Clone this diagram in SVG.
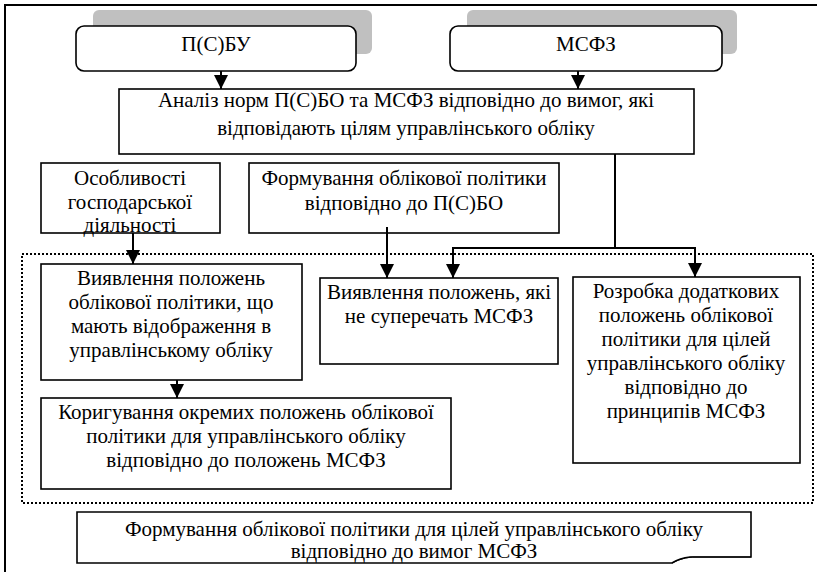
<svg xmlns="http://www.w3.org/2000/svg" width="817" height="572" viewBox="0 0 817 572">
<defs>
<marker id="ah" markerUnits="userSpaceOnUse" markerWidth="14" markerHeight="14" viewBox="0 0 14 14" refX="14" refY="7" orient="auto-start-reverse">
<path d="M0,0 L14,7 L0,14 Z" fill="#000"/>
</marker>
</defs>
<rect x="0" y="0" width="817" height="572" fill="#fff"/>
<path d="M5,600 V5 H840" fill="none" stroke="#000" stroke-width="2"/>
<rect x="22" y="254" width="791" height="249" fill="none" stroke="#000" stroke-width="2" stroke-dasharray="2,2"/>
<g fill="#c0c0c0" stroke="none">
<rect x="93" y="10" width="279" height="44" rx="6"/>
<rect x="467" y="10" width="270" height="44" rx="6"/>
</g>
<g id="psbu">
<rect x="76" y="26" width="280" height="45" rx="8" fill="#fff" stroke="#000" stroke-width="1.6"/>
<text font-family="Liberation Serif" font-size="21" text-anchor="middle" x="216" y="51">П(С)БУ</text>
</g>
<g id="msfz">
<rect x="450" y="26" width="272" height="45" rx="8" fill="#fff" stroke="#000" stroke-width="1.6"/>
<text font-family="Liberation Serif" font-size="21" text-anchor="middle" x="586" y="51">МСФЗ</text>
</g>
<g id="analiz">
<rect x="119" y="89" width="575" height="65" fill="#fff" stroke="#000" stroke-width="1.6"/>
<text font-family="Liberation Serif" font-size="21" text-anchor="middle" x="406" y="107">Аналіз норм П(С)БО та МСФЗ відповідно до вимог, які</text>
<text font-family="Liberation Serif" font-size="21" text-anchor="middle" x="406" y="135">відповідають цілям управлінського обліку</text>
</g>
<g id="osoblyvosti">
<rect x="41" y="163" width="179" height="70" fill="#fff" stroke="#000" stroke-width="1.6"/>
<text font-family="Liberation Serif" font-size="21" text-anchor="middle" x="130" y="185">Особливості</text>
<text font-family="Liberation Serif" font-size="21" text-anchor="middle" x="130" y="209">господарської</text>
<text font-family="Liberation Serif" font-size="21" text-anchor="middle" x="130" y="232">діяльності</text>
</g>
<g id="formuvannia">
<rect x="249" y="163" width="310" height="70" fill="#fff" stroke="#000" stroke-width="1.6"/>
<text font-family="Liberation Serif" font-size="21" text-anchor="middle" x="404" y="185">Формування облікової політики</text>
<text font-family="Liberation Serif" font-size="21" text-anchor="middle" x="404" y="210">відповідно до  П(С)БО</text>
</g>
<g id="vyiavlennia1">
<rect x="41" y="264" width="261" height="116" fill="#fff" stroke="#000" stroke-width="1.6"/>
<text font-family="Liberation Serif" font-size="21" text-anchor="middle" x="171" y="285">Виявлення положень</text>
<text font-family="Liberation Serif" font-size="21" text-anchor="middle" x="171" y="309">облікової політики, що</text>
<text font-family="Liberation Serif" font-size="21" text-anchor="middle" x="171" y="333">мають відображення в</text>
<text font-family="Liberation Serif" font-size="21" text-anchor="middle" x="171" y="357">управлінському обліку</text>
</g>
<g id="vyiavlennia2">
<rect x="320" y="278" width="238" height="86" fill="#fff" stroke="#000" stroke-width="1.6"/>
<text font-family="Liberation Serif" font-size="21" text-anchor="middle" x="439" y="299">Виявлення положень, які</text>
<text font-family="Liberation Serif" font-size="21" text-anchor="middle" x="439" y="323">не суперечать МСФЗ</text>
</g>
<g id="rozrobka">
<rect x="573" y="277" width="227" height="186" fill="#fff" stroke="#000" stroke-width="1.6"/>
<text font-family="Liberation Serif" font-size="21" text-anchor="middle" x="686" y="298">Розробка додаткових</text>
<text font-family="Liberation Serif" font-size="21" text-anchor="middle" x="686" y="322">положень облікової</text>
<text font-family="Liberation Serif" font-size="21" text-anchor="middle" x="686" y="346">політики для цілей</text>
<text font-family="Liberation Serif" font-size="21" text-anchor="middle" x="686" y="370">управлінського обліку</text>
<text font-family="Liberation Serif" font-size="21" text-anchor="middle" x="686" y="394">відповідно до</text>
<text font-family="Liberation Serif" font-size="21" text-anchor="middle" x="686" y="418">принципів МСФЗ</text>
</g>
<g id="koryguvannia">
<rect x="41" y="398" width="410" height="91" fill="#fff" stroke="#000" stroke-width="1.6"/>
<text font-family="Liberation Serif" font-size="21" text-anchor="middle" x="246" y="419">Коригування окремих положень облікової</text>
<text font-family="Liberation Serif" font-size="21" text-anchor="middle" x="246" y="443">політики для управлінського обліку</text>
<text font-family="Liberation Serif" font-size="21" text-anchor="middle" x="246" y="467">відповідно до положень МСФЗ</text>
</g>
<g id="final">
<path d="M77,512 H751 V557 H690 Q680,558 672,563 H77 Z" fill="#fff" stroke="#000" stroke-width="1.6"/>
<path d="M672,563 Q685,556 700,557 L751,557" fill="none" stroke="#000" stroke-width="1"/>
<text font-family="Liberation Serif" font-size="21" text-anchor="middle" x="414" y="536">Формування облікової політики для цілей управлінського обліку</text>
<text font-family="Liberation Serif" font-size="21" text-anchor="middle" x="414" y="558">відповідно до вимог МСФЗ</text>
</g>
<g id="connectors" stroke="#000" stroke-width="2" fill="none">
<line x1="221" y1="71" x2="221" y2="89" marker-end="url(#ah)"/>
<line x1="578" y1="71" x2="578" y2="89" marker-end="url(#ah)"/>
<polyline points="615,154 615,248"/>
<polyline points="453,278 453,248 695,248 695,277" marker-start="url(#ah)" marker-end="url(#ah)"/>
<line x1="133" y1="233" x2="133" y2="264" marker-end="url(#ah)"/>
<line x1="387" y1="227" x2="387" y2="278" marker-end="url(#ah)"/>
<line x1="177" y1="380" x2="177" y2="398" marker-end="url(#ah)"/>
</g>
</svg>
